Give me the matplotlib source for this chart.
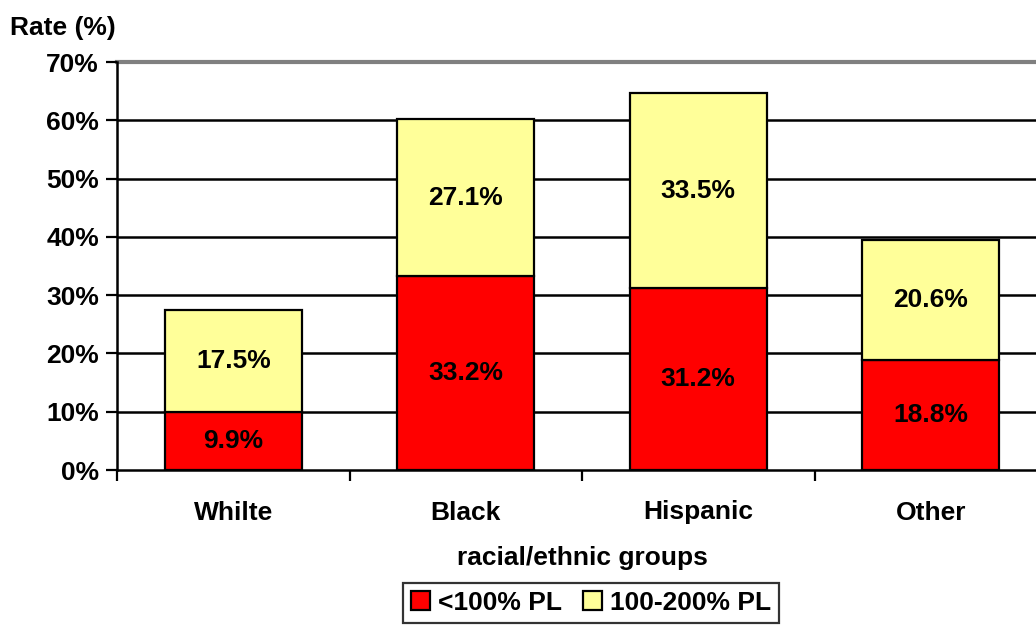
import matplotlib
matplotlib.use("Agg")
import matplotlib.pyplot as plt
from matplotlib.ticker import MultipleLocator, FuncFormatter, FixedLocator
from matplotlib.transforms import blended_transform_factory

plt.rcParams['font.family'] = ['Liberation Sans', 'DejaVu Sans']
plt.rcParams['font.weight'] = 'bold'

categories = ["Whilte", "Black", "Hispanic", "Other"]
below_100 = [9.9, 33.2, 31.2, 18.8]
from_100_to_200 = [17.5, 27.1, 33.5, 20.6]
series_names = ["<100% PL", "100-200% PL"]
colors = ["#FF0000", "#FFFF99"]

W, H = 1036, 626
fig = plt.figure(figsize=(W / 100, H / 100), dpi=100)
ax = fig.add_axes([117 / W, (H - 470) / H, 930 / W, 408 / H])

fs = 19
x = list(range(len(categories)))
bw = 0.59
b1 = ax.bar(x, below_100, bw, color=colors[0], edgecolor="black", linewidth=1.6,
            label=series_names[0], zorder=3)
b2 = ax.bar(x, from_100_to_200, bw, bottom=below_100, color=colors[1],
            edgecolor="black", linewidth=1.6, label=series_names[1], zorder=3)

for i in x:
    ax.text(i, below_100[i] / 2, f"{below_100[i]:.1f}%", ha="center", va="center",
            fontsize=fs, fontweight="bold", zorder=4)
    ax.text(i, below_100[i] + from_100_to_200[i] / 2, f"{from_100_to_200[i]:.1f}%",
            ha="center", va="center", fontsize=fs, fontweight="bold", zorder=4)

ax.set_xlim(-0.5, 3.5)
ax.set_ylim(0, 70)
ax.yaxis.set_major_locator(MultipleLocator(10))
ax.yaxis.set_major_formatter(FuncFormatter(lambda v, p: f"{v:.0f}%"))
ax.tick_params(axis="y", labelsize=fs, length=8, width=1.6, pad=5)

# category ticks sit between groups; names are centered under each bar
ax.xaxis.set_major_locator(FixedLocator([-0.5, 0.5, 1.5, 2.5, 3.5]))
ax.xaxis.set_major_formatter(FuncFormatter(lambda v, p: ""))
ax.tick_params(axis="x", which="major", length=8, width=1.6)
trans = blended_transform_factory(ax.transData, ax.transAxes)
for i, name in zip(x, categories):
    ax.text(i, -40 / 408, name, transform=trans, ha="center", va="center_baseline",
            fontsize=fs, fontweight="bold")

for v in range(10, 70, 10):
    ax.axhline(v, color="black", linewidth=1.8, zorder=1)
ax.axhline(70, color="#808080", linewidth=3, zorder=1, clip_on=False)

for s in ["top", "right"]:
    ax.spines[s].set_visible(False)
ax.spines["left"].set_linewidth(1.8)
ax.spines["bottom"].set_linewidth(1.8)

fig.text(582 / W, 1 - 556 / H, "racial/ethnic groups", ha="center", va="center_baseline",
         fontsize=fs, fontweight="bold")
fig.text(10 / W, 1 - 25 / H, "Rate (%)", ha="left", va="center_baseline",
         fontsize=fs, fontweight="bold")

leg = fig.legend(handles=[b1, b2], labels=series_names, loc="center",
                 bbox_to_anchor=(591 / W, 1 - 603 / H), ncol=2, frameon=True,
                 fancybox=False, edgecolor="black", fontsize=fs,
                 handlelength=0.72, handleheight=0.72, handletextpad=0.3,
                 columnspacing=0.8, borderpad=0.3, borderaxespad=0)
leg.get_frame().set_linewidth(1.6)

fig.savefig("out.png", dpi=100)
